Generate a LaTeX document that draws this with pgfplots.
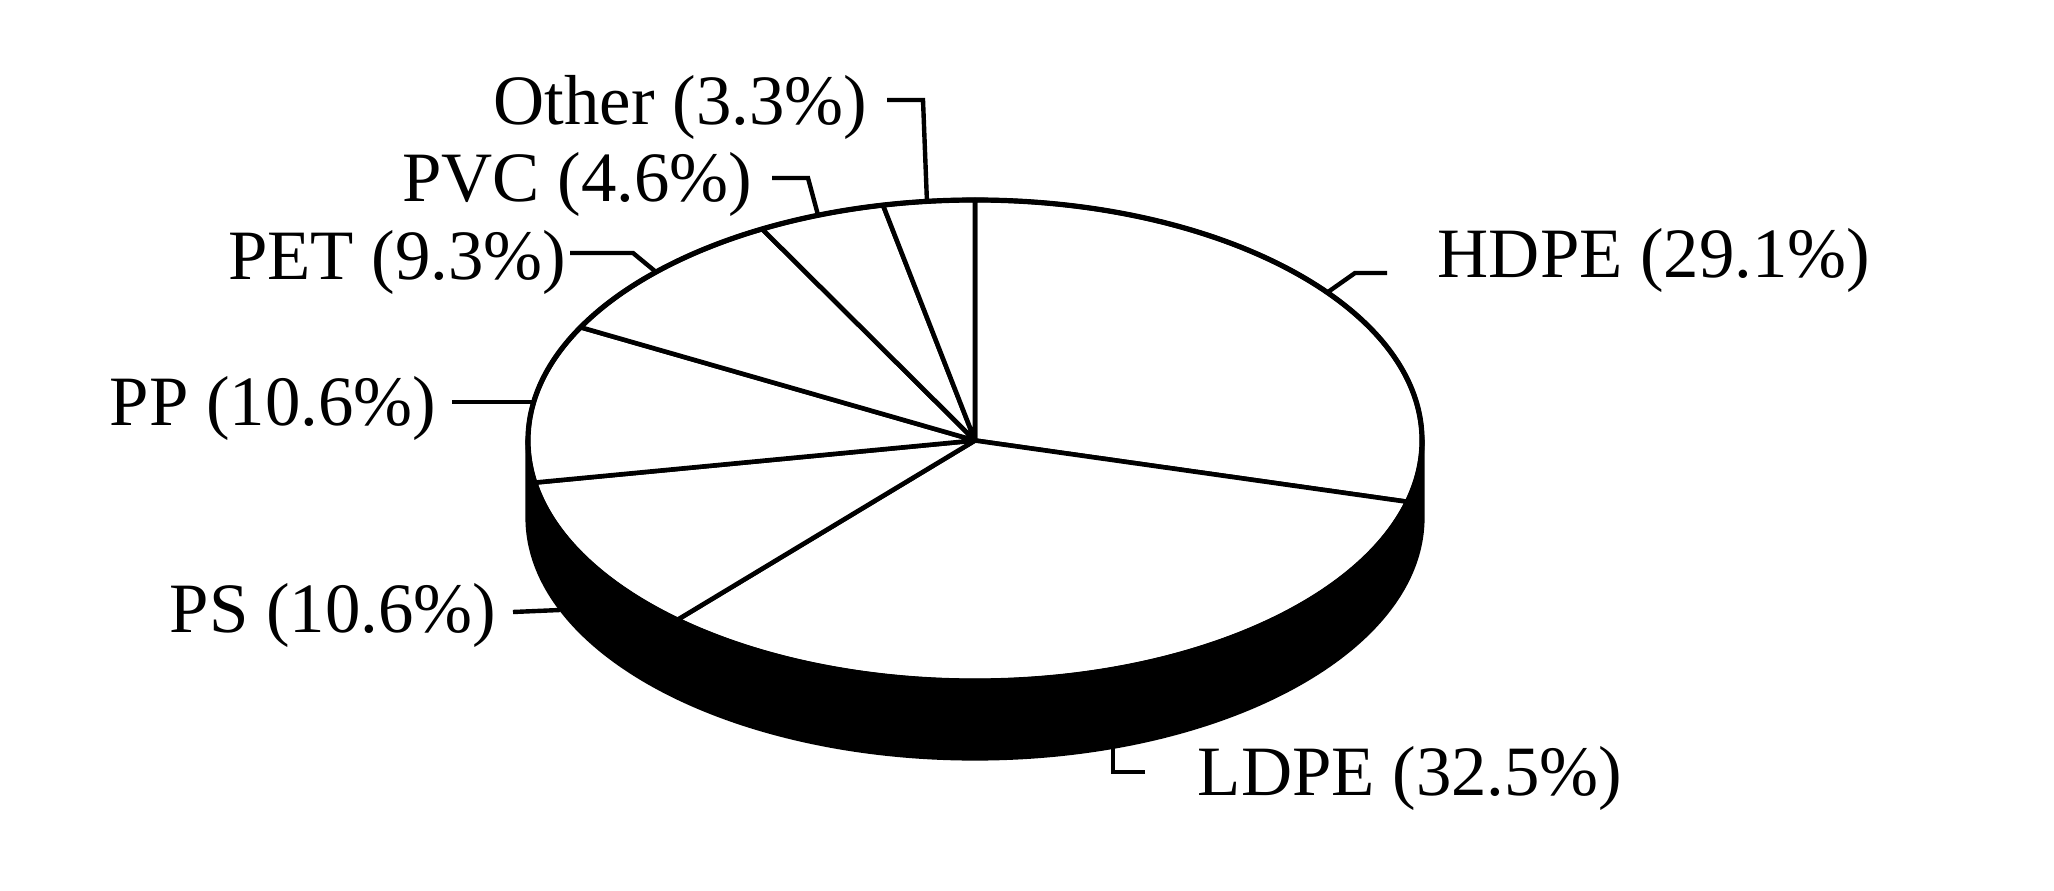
\documentclass[border=0pt]{standalone}
\usepackage{pgfplots}
\pgfplotsset{compat=1.18}
\usepackage{pgfplotstable}
\usepackage{fontspec}
\setmainfont{Liberation Serif}

\pgfplotstableread{
name value
HDPE 29.1
LDPE 32.5
PS 10.6
PP 10.6
PET 9.3
PVC 4.6
Other 3.3
}\piedata

\begin{document}
\begin{tikzpicture}
\xdef\cum{90}
\foreach \i in {0,...,6}{%
  \pgfplotstablegetelem{\i}{value}\of\piedata
  \pgfmathsetmacro\endang{\cum-\pgfplotsretval*3.6}%
  \expandafter\xdef\csname sa\i\endcsname{\cum}%
  \expandafter\xdef\csname ea\i\endcsname{\endang}%
  \xdef\cum{\endang}%
}
\begin{axis}[
  width=513.5pt, height=222.5pt, scale only axis,
  xmin=0, xmax=2054, ymin=0, ymax=890,
  hide axis, clip=false,
]
\path (axis cs:0,0) rectangle (axis cs:2054,890);
% side wall
\filldraw[fill=black, line width=1.3pt, line join=round]
  (axis cs:528,449.5) arc[start angle=180, end angle=360, x radius=111.75pt, y radius=60.125pt]
  -- ++(0pt,-19.25pt)
  arc[start angle=0, end angle=-180, x radius=111.75pt, y radius=60.125pt] -- cycle;
% slices
\pgfplotsinvokeforeach{0,...,6}{%
  \filldraw[fill=white, line width=1.15pt, line join=round]
    (axis cs:975,449.5) -- ++(\csname sa#1\endcsname:111.75pt and 60.125pt)
    arc[start angle=\csname sa#1\endcsname, end angle=\csname ea#1\endcsname, x radius=111.75pt, y radius=60.125pt] -- cycle;
}
\draw[line width=1.3pt] (axis cs:975,449.5) ellipse [x radius=111.75pt, y radius=60.125pt];
% leader lines
\begin{scope}[line width=1.1pt]
\draw (axis cs:887,790) -- (axis cs:923,790) -- (axis cs:927,687);
\draw (axis cs:772,712) -- (axis cs:808,712) -- (axis cs:818,675);
\draw (axis cs:570,637) -- (axis cs:633,637) -- (axis cs:656,618);
\draw (axis cs:452,488) -- (axis cs:534,488);
\draw (axis cs:513,278) -- (axis cs:560,280);
\draw (axis cs:1387,617) -- (axis cs:1355,617) -- (axis cs:1328,598);
\draw (axis cs:1145,118) -- (axis cs:1113,118) -- (axis cs:1113,144);
\end{scope}
% labels
\begin{scope}[every node/.style={font=\fontsize{17.7}{20}\selectfont, inner sep=0pt}]
\node[anchor=base east] at (axis cs:868,765) {Other (3.3\%)};
\node[anchor=base east] at (axis cs:753,688) {PVC (4.6\%)};
\node[anchor=base east] at (axis cs:567,610) {PET (9.3\%)};
\node[anchor=base east] at (axis cs:437,465) {PP (10.6\%)};
\node[anchor=base east] at (axis cs:497,258) {PS (10.6\%)};
\node[anchor=base west] at (axis cs:1437,612) {HDPE (29.1\%)};
\node[anchor=base west] at (axis cs:1197,95) {LDPE (32.5\%)};
\end{scope}
\end{axis}
\end{tikzpicture}
\end{document}
